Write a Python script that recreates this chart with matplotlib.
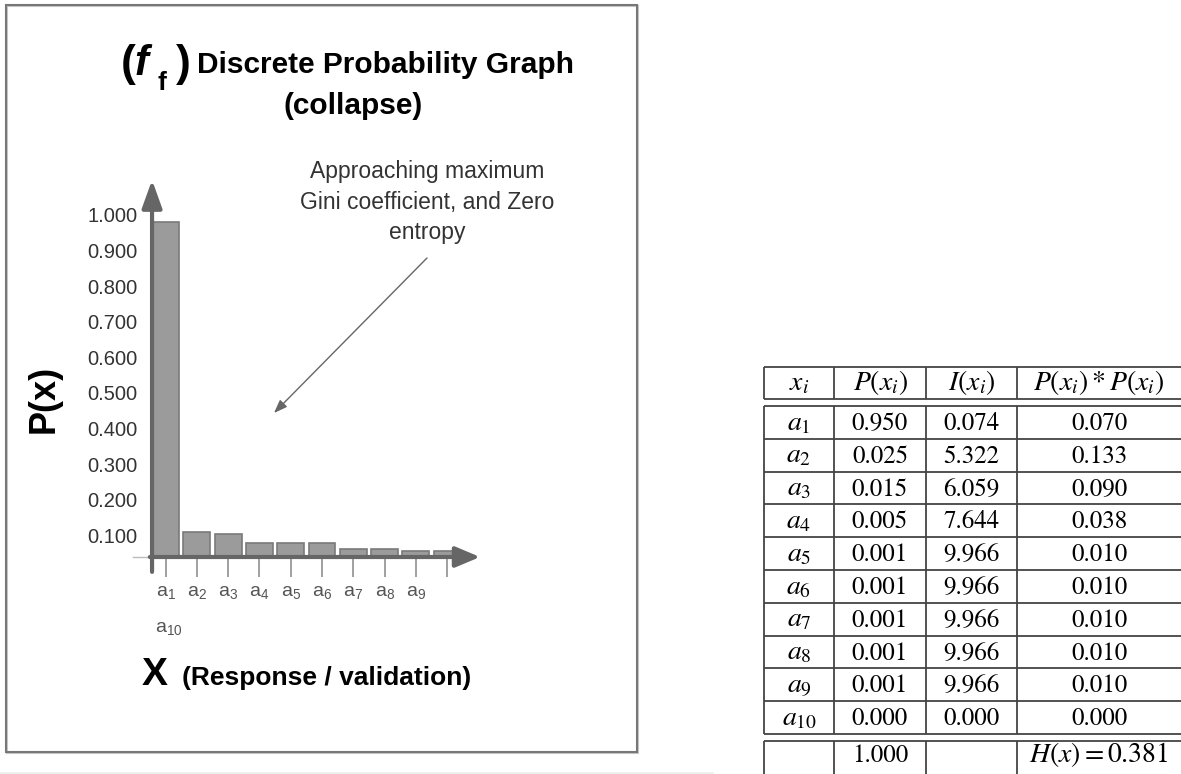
import numpy as np
import matplotlib
matplotlib.use("Agg")
import matplotlib.pyplot as plt
from matplotlib.patches import Rectangle

plt.rcParams['font.family'] = ['Liberation Sans', 'DejaVu Sans']
plt.rcParams['mathtext.fontset'] = 'stix'

# --- chart data (bar tops, on the P(x) tick scale) ---
categories = ['a_{1}', 'a_{2}', 'a_{3}', 'a_{4}', 'a_{5}', 'a_{6}', 'a_{7}', 'a_{8}', 'a_{9}', 'a_{10}']
bar_tops = [0.980, 0.110, 0.104, 0.079, 0.079, 0.079, 0.062, 0.062, 0.056, 0.056]
y_ticks = [0.1, 0.2, 0.3, 0.4, 0.5, 0.6, 0.7, 0.8, 0.9, 1.0]
y_tick_labels = ['0.100', '0.200', '0.300', '0.400', '0.500', '0.600', '0.700', '0.800', '0.900', '1.000']
axis_level = 0.039

# --- table data ---
headers = [r'$x_i$', r'$P(x_i)$', r'$I(x_i)$', r'$P(x_i) * P(x_i)$']
p_values = [0.950, 0.025, 0.015, 0.005, 0.001, 0.001, 0.001, 0.001, 0.001, 0.000]
info_values = [0.074, 5.322, 6.059, 7.644, 9.966, 9.966, 9.966, 9.966, 9.966, 0.000]
weighted = [0.070, 0.133, 0.090, 0.038, 0.010, 0.010, 0.010, 0.010, 0.010, 0.000]
total_p = 1.000
entropy = 0.381

W, H = 1181, 774
fig = plt.figure(figsize=(W / 100, H / 100), dpi=100)

# pixel canvas for frame, titles and the table
bg = fig.add_axes([0, 0, 1, 1])
bg.set_xlim(0, W)
bg.set_ylim(H, 0)
bg.axis('off')

bg.add_patch(Rectangle((7, 6), 631, 747, fill=False, ec='#c8c8c8', lw=1.5))
bg.add_patch(Rectangle((6, 5), 631, 747, fill=False, ec='#777777', lw=1.5))
bg.plot([0, 713], [772.5, 772.5], color='#ececec', lw=1.2)

# --- chart axes, px mapping: bar i centre at 165.5 + 31.3 i, P=0 at y=571 ---
left_px, right_px, top_px, bot_px = 142, 482, 178, 557
ax = fig.add_axes([left_px / W, 1 - bot_px / H, (right_px - left_px) / W, (bot_px - top_px) / H])
ax.set_xlim((left_px - 165.5) / 31.3, (right_px - 165.5) / 31.3)
ax.set_ylim(axis_level, (571 - top_px) / 356)
ax.patch.set_alpha(0)
for s in ax.spines.values():
    s.set_visible(False)

x = np.arange(len(categories))
ax.bar(x, np.array(bar_tops) - axis_level, bottom=axis_level, width=0.86,
       color='#9b9b9b', edgecolor='#7a7a7a', lw=1.2, zorder=2)

ax.set_yticks(y_ticks, y_tick_labels, fontsize=14.5, color='#333333')
ax.tick_params(axis='y', length=0, pad=3)

xlabels = [r'$\mathregular{' + c + '}$' for c in categories[:-1]] + ['']
ax.set_xticks(x, xlabels, fontsize=14, color='#555555')
ax.tick_params(axis='x', direction='out', length=14.4, width=1.3, color='#999999', pad=5)
ax.text(0.11, (571 - 629) / 356, r'$\mathregular{' + categories[-1] + '}$',
        fontsize=14, color='#555555', ha='center', va='center', clip_on=False)

# axes arrows
ax.annotate('', xy=(-0.43, (571 - 180) / 356), xytext=(-0.43, (571 - 572) / 356),
            arrowprops=dict(arrowstyle='-|>,head_length=1.0,head_width=0.36', mutation_scale=17,
                            lw=3, color='#666666', shrinkA=0, shrinkB=0),
            annotation_clip=False, zorder=3)
ax.annotate('', xy=(10.05, axis_level), xytext=(-0.5, axis_level),
            arrowprops=dict(arrowstyle='-|>,head_length=1.0,head_width=0.42', mutation_scale=15,
                            lw=3, color='#666666', shrinkA=0, shrinkB=0),
            annotation_clip=False, zorder=3)
ax.plot([(133 - 165.5) / 31.3, -0.5], [axis_level, axis_level], color='#bbbbbb', lw=1, clip_on=False)

# titles
bg.text(121, 76, '(', fontsize=32, fontweight='bold', ha='left', va='baseline')
bg.text(134, 75, 'f', fontsize=30, fontweight='bold', fontstyle='italic', ha='left', va='baseline')
bg.text(157, 90, 'f', fontsize=19, fontweight='bold', ha='left', va='baseline')
bg.text(176, 76, ')', fontsize=32, fontweight='bold', ha='left', va='baseline')
bg.text(197, 73, 'Discrete Probability Graph', fontsize=21.5, fontweight='bold', ha='left', va='baseline')
bg.text(353, 114, '(collapse)', fontsize=21.5, fontweight='bold', ha='center', va='baseline')

bg.text(44, 399, 'P(x)', fontsize=26, fontweight='bold', rotation=90, ha='center', va='center')
bg.text(142, 685, 'X', fontsize=28, fontweight='bold', ha='left', va='baseline')
bg.text(182, 685, '(Response / validation)', fontsize=19, fontweight='bold', ha='left', va='baseline')

bg.text(427, 202, 'Approaching maximum\nGini coefficient, and Zero\nentropy', fontsize=16.5,
        color='#333333', ha='center', va='center', linespacing=1.4)
bg.annotate('', xy=(274, 413), xytext=(427, 258),
            arrowprops=dict(arrowstyle='-|>,head_length=0.8,head_width=0.3', mutation_scale=10,
                            lw=1, color='#666666', shrinkA=0, shrinkB=0))

# --- table ---
col_edges = [764, 834, 926, 1017, 1181]
col_mid = [(a + b) / 2 for a, b in zip(col_edges[:-1], col_edges[1:])]
head_top, head_bot = 367, 399
body_top, row_h = 406, 32.8
body_bot = body_top + row_h * len(p_values)
tot_top, tot_bot = 741, 800
line_kw = dict(color='#444444', lw=1.3)

for top, bot in [(head_top, head_bot), (body_top, body_bot), (tot_top, tot_bot)]:
    bg.hlines([top, bot], col_edges[0], W, **line_kw)
    bg.vlines(col_edges[:-1], top, bot, **line_kw)
for i in range(1, len(p_values)):
    bg.hlines(body_top + i * row_h, col_edges[0], W, **line_kw)

num_kw = dict(fontsize=18, ha='center', va='baseline', family='STIXGeneral')
math_kw = dict(fontsize=20, ha='center', va='baseline')
for j, h in enumerate(headers):
    bg.text(col_mid[j], head_top + 23, h, **math_kw)
for i in range(len(p_values)):
    yb = body_top + i * row_h + 24
    bg.text(col_mid[0], yb, r'$' + categories[i] + '$', **math_kw)
    for j, v in enumerate([p_values[i], info_values[i], weighted[i]], start=1):
        bg.text(col_mid[j], yb, f'{v:.3f}', **num_kw)
bg.text(col_mid[1], tot_top + 21, f'{total_p:.3f}', **num_kw)
bg.text(col_mid[3], tot_top + 21, rf'$H(x) = {entropy:.3f}$', **math_kw)

fig.savefig('out.png', dpi=100)
